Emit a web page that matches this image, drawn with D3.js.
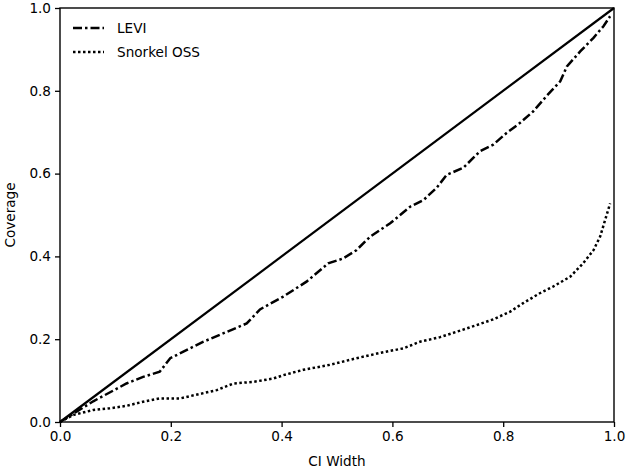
<!DOCTYPE html>
<html>
<head>
<meta charset="utf-8">
<script src="https://cdn.jsdelivr.net/npm/d3@7"></script>
<style>
  html, body { margin: 0; padding: 0; background: #fff; }
  svg { display: block; }
  text { font-family: "DejaVu Sans", sans-serif; fill: #000; }
</style>
</head>
<body>
<svg id="chart" width="630" height="469"></svg>
<script>
// CI width (x) and empirical coverage (y) for each method
const leviX = [0, 0.024, 0.06, 0.12, 0.15, 0.18, 0.199, 0.259, 0.337, 0.361, 0.403, 0.445, 0.484, 0.511, 0.535, 0.56, 0.596, 0.632, 0.656, 0.68, 0.698, 0.728, 0.758, 0.782, 0.806, 0.83, 0.854, 0.878, 0.903, 0.915, 0.939, 0.963, 0.981, 0.993];
const leviY = [0, 0.02, 0.05, 0.093, 0.109, 0.1215, 0.154, 0.194, 0.238, 0.272, 0.303, 0.339, 0.383, 0.395, 0.415, 0.448, 0.48, 0.52, 0.536, 0.566, 0.597, 0.614, 0.654, 0.67, 0.698, 0.722, 0.75, 0.787, 0.823, 0.859, 0.895, 0.928, 0.956, 0.98];
const snorkelX = [0, 0.024, 0.06, 0.09, 0.12, 0.15, 0.18, 0.217, 0.253, 0.283, 0.313, 0.349, 0.385, 0.403, 0.439, 0.487, 0.535, 0.578, 0.62, 0.65, 0.686, 0.716, 0.752, 0.782, 0.812, 0.836, 0.866, 0.89, 0.921, 0.944, 0.963, 0.975, 0.984, 0.993];
const snorkelY = [0, 0.017, 0.029, 0.033, 0.039, 0.049, 0.057, 0.057, 0.068, 0.077, 0.093, 0.097, 0.105, 0.113, 0.126, 0.138, 0.154, 0.167, 0.178, 0.194, 0.205, 0.218, 0.234, 0.248, 0.266, 0.287, 0.311, 0.327, 0.351, 0.383, 0.415, 0.448, 0.488, 0.528];
const diagX = [0, 1];
const diagY = [0, 1];
const xTicks = [0, 0.2, 0.4, 0.6, 0.8, 1.0];
const yTicks = [0, 0.2, 0.4, 0.6, 0.8, 1.0];
const legendLabels = ["LEVI", "Snorkel OSS"];

const svg = d3.select("#chart");
const margin = { left: 60, right: 16, top: 8, bottom: 47 };
const W = 630, H = 469;
const x = d3.scaleLinear().domain([0, 1]).range([margin.left, W - margin.right]);
const y = d3.scaleLinear().domain([0, 1]).range([H - margin.bottom, margin.top]);

const line = d3.line().x(d => x(d[0])).y(d => y(d[1]));
const zip = (a, b) => a.map((v, i) => [v, b[i]]);

const plot = svg.append("g");
plot.append("path").datum(zip(diagX, diagY)).attr("d", line)
  .attr("fill", "none").attr("stroke", "#000").attr("stroke-width", 2.2);
plot.append("path").datum(zip(leviX, leviY)).attr("d", line)
  .attr("fill", "none").attr("stroke", "#000").attr("stroke-width", 2.5)
  .attr("stroke-dasharray", "9,3,2.5,3");
plot.append("path").datum(zip(snorkelX, snorkelY)).attr("d", line)
  .attr("fill", "none").attr("stroke", "#000").attr("stroke-width", 2.5)
  .attr("stroke-dasharray", "2.5,2.5");

// axes
const fmt = d3.format(".1f");
const xAxis = svg.append("g").attr("transform", `translate(0,${y(0)})`)
  .call(d3.axisBottom(x).tickValues(xTicks).tickFormat(fmt).tickSize(5).tickPadding(4));
const yAxis = svg.append("g").attr("transform", `translate(${x(0)},0)`)
  .call(d3.axisLeft(y).tickValues(yTicks).tickFormat(fmt).tickSize(5).tickPadding(4));
[xAxis, yAxis].forEach(g => {
  g.select(".domain").remove();
  g.selectAll("line").attr("stroke", "#000").attr("stroke-width", 1.3);
  g.selectAll("text").style("font-size", "13.6px").style("font-family", "DejaVu Sans");
});

// frame
svg.append("rect").attr("x", x(0)).attr("y", y(1))
  .attr("width", x(1) - x(0)).attr("height", y(0) - y(1))
  .attr("fill", "none").attr("stroke", "#000").attr("stroke-width", 1.4);

// axis labels
svg.append("text").attr("x", (x(0) + x(1)) / 2).attr("y", 466)
  .attr("text-anchor", "middle").style("font-size", "13.6px").text("CI Width");
svg.append("text").attr("transform", `translate(15,${(y(0) + y(1)) / 2}) rotate(-90)`)
  .attr("text-anchor", "middle").style("font-size", "13.6px").text("Coverage");

// legend
const legend = svg.append("g");
const dashes = ["9,3,2.5,3", "2.5,2.5"];
legendLabels.forEach((lab, i) => {
  const ly = 28 + i * 24;
  legend.append("line").attr("x1", 73).attr("x2", 104).attr("y1", ly).attr("y2", ly)
    .attr("stroke", "#000").attr("stroke-width", 2.5).attr("stroke-dasharray", dashes[i]);
  legend.append("text").attr("x", 117).attr("y", ly + 5)
    .style("font-size", "13.6px").text(lab);
});
</script>
</body>
</html>
